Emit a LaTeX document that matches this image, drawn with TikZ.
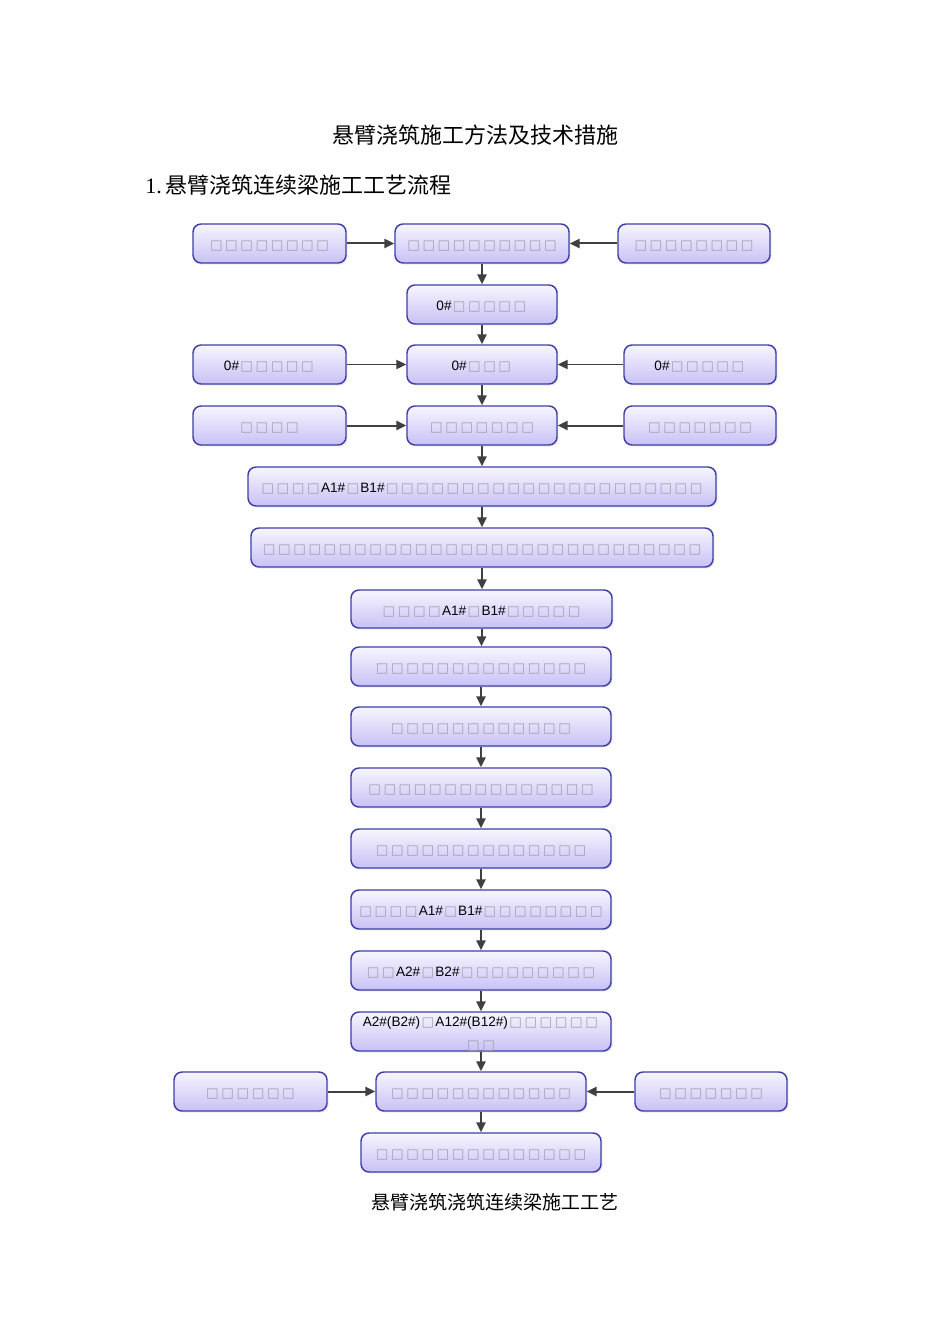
\documentclass[tikz,border=0pt]{standalone}
\usepackage{fontspec}
\usetikzlibrary{arrows.meta,shadows}
\newfontfamily\cjk{Noto Sans CJK SC}
\newfontfamily\lat{Liberation Sans}
\newfontfamily\lser{Liberation Serif}
\newfontfamily\sqf{DejaVu Sans}[Scale=0.98]
\definecolor{boxline}{HTML}{3E3EA8}
\definecolor{boxtop}{HTML}{F7F5FF}
\definecolor{boxbot}{HTML}{C9C1F5}
\definecolor{sqgray}{HTML}{A0A0AC}
\definecolor{arrgray}{HTML}{404040}
\newcommand\sq[1]{\foreach\k in {1,...,#1}{\makebox[11.4pt]{\textcolor{sqgray}{\sqf □}}}}
\tikzset{
  box/.style={draw=boxline, line width=1.1pt, rounded corners=6pt,
    top color=boxtop, bottom color=boxbot, inner sep=0pt, align=center,
    font=\lat\fontsize{10.2}{17.25}\selectfont,
    drop shadow={shadow xshift=1.2pt, shadow yshift=-1.2pt, fill=black!12, opacity=0.6}},
  arr/.style={-{Triangle[length=7.5pt,width=7pt]}, line width=1.5pt, draw=arrgray},
  arrthin/.style={-{Triangle[length=7.5pt,width=7pt]}, line width=0.8pt, draw=arrgray},
}
\newcommand\bx[6]{%
  \node[box, minimum width={(#4-#2)*0.75pt}, minimum height={(#5-#3)*0.75pt}]
    (#1) at ({(#2+#4)/2},{(#3+#5)/2}) {\raisebox{-3.75pt}[0pt][0pt]{\begin{tabular}{@{}c@{}}#6\end{tabular}}};}
\begin{document}
\begin{tikzpicture}[x=0.75pt,y=-0.75pt]
\useasboundingbox[fill=white] (0,0) rectangle (950,1344);
\node[font=\cjk\fontsize{16.5}{18}\selectfont] (title) at (475,135) {悬臂浇筑施工方法及技术措施};
\node[anchor=west, inner sep=0pt, font=\fontsize{16.5}{18}\selectfont] (head) at (145,185) {\lser 1.\,\cjk 悬臂浇筑连续梁施工工艺流程};
\node[font=\cjk\fontsize{14.3}{16}\selectfont] (cap) at (495,1202) {悬臂浇筑浇筑连续梁施工工艺};

\bx{L1}{193}{224}{346}{263}{\sq8}
\bx{C1}{395}{224}{569}{263}{\sq{10}}
\bx{R1}{618}{224}{770}{263}{\sq8}
\bx{C2}{407}{285}{557}{324}{0\#\sq5}
\bx{L3}{193}{345}{346}{384}{0\#\sq5}
\bx{C3}{407}{345}{557}{384}{0\#\sq3}
\bx{R3}{624}{345}{776}{384}{0\#\sq5}
\bx{L4}{193}{406}{346}{445}{\sq4}
\bx{C4}{407}{406}{557}{445}{\sq7}
\bx{R4}{624}{406}{776}{445}{\sq7}
\bx{C5}{248}{467}{716}{506}{\sq4A1\#\sq1B1\#\sq{21}}
\bx{C6}{251}{528}{713}{567}{\sq{29}}
\bx{C7}{351}{590}{612}{628}{\sq4A1\#\sq1B1\#\sq5}
\bx{C8}{351}{647}{611}{686}{\sq{14}}
\bx{C9}{351}{707}{611}{746}{\sq{12}}
\bx{C10}{351}{768}{611}{807}{\sq{15}}
\bx{C11}{351}{829}{611}{868}{\sq{14}}
\bx{C12}{351}{890}{611}{929}{\sq4A1\#\sq1B1\#\sq8}
\bx{C13}{351}{951}{611}{990}{\sq2A2\#\sq1B2\#\sq9}
\bx{C14}{351}{1012}{611}{1051}{A2\#(B2\#)\sq1A12\#(B12\#)\sq6\\\sq2}
\bx{L15}{174}{1072}{327}{1111}{\sq6}
\bx{C15}{376}{1072}{586}{1111}{\sq{12}}
\bx{R15}{635}{1072}{787}{1111}{\sq7}
\bx{C16}{361}{1133}{601}{1172}{\sq{14}}

\draw[arr] (L1) -- (C1);
\draw[arr] (R1) -- (C1);
\draw[arr] (C1.south) -- (C1.south |- C2.north);
\draw[arr] (C2.south) -- (C2.south |- C3.north);
\draw[arrthin] (L3) -- (C3);
\draw[arrthin] (R3) -- (C3);
\draw[arr] (C3.south) -- (C3.south |- C4.north);
\draw[arr] (L4) -- (C4);
\draw[arr] (R4) -- (C4);
\draw[arr] (C4.south) -- (C4.south |- C5.north);
\draw[arr] (C5.south) -- (C5.south |- C6.north);
\draw[arr] (C6.south) -- (C6.south |- C7.north);
\draw[arr] (C7.south) -- (C7.south |- C8.north);
\draw[arr] (C8.south) -- (C8.south |- C9.north);
\draw[arr] (C9.south) -- (C9.south |- C10.north);
\draw[arr] (C10.south) -- (C10.south |- C11.north);
\draw[arr] (C11.south) -- (C11.south |- C12.north);
\draw[arr] (C12.south) -- (C12.south |- C13.north);
\draw[arr] (C13.south) -- (C13.south |- C14.north);
\draw[arr] (C14.south) -- (C14.south |- C15.north);
\draw[arr] (L15) -- (C15);
\draw[arr] (R15) -- (C15);
\draw[arr] (C15.south) -- (C15.south |- C16.north);
\end{tikzpicture}
\end{document}
